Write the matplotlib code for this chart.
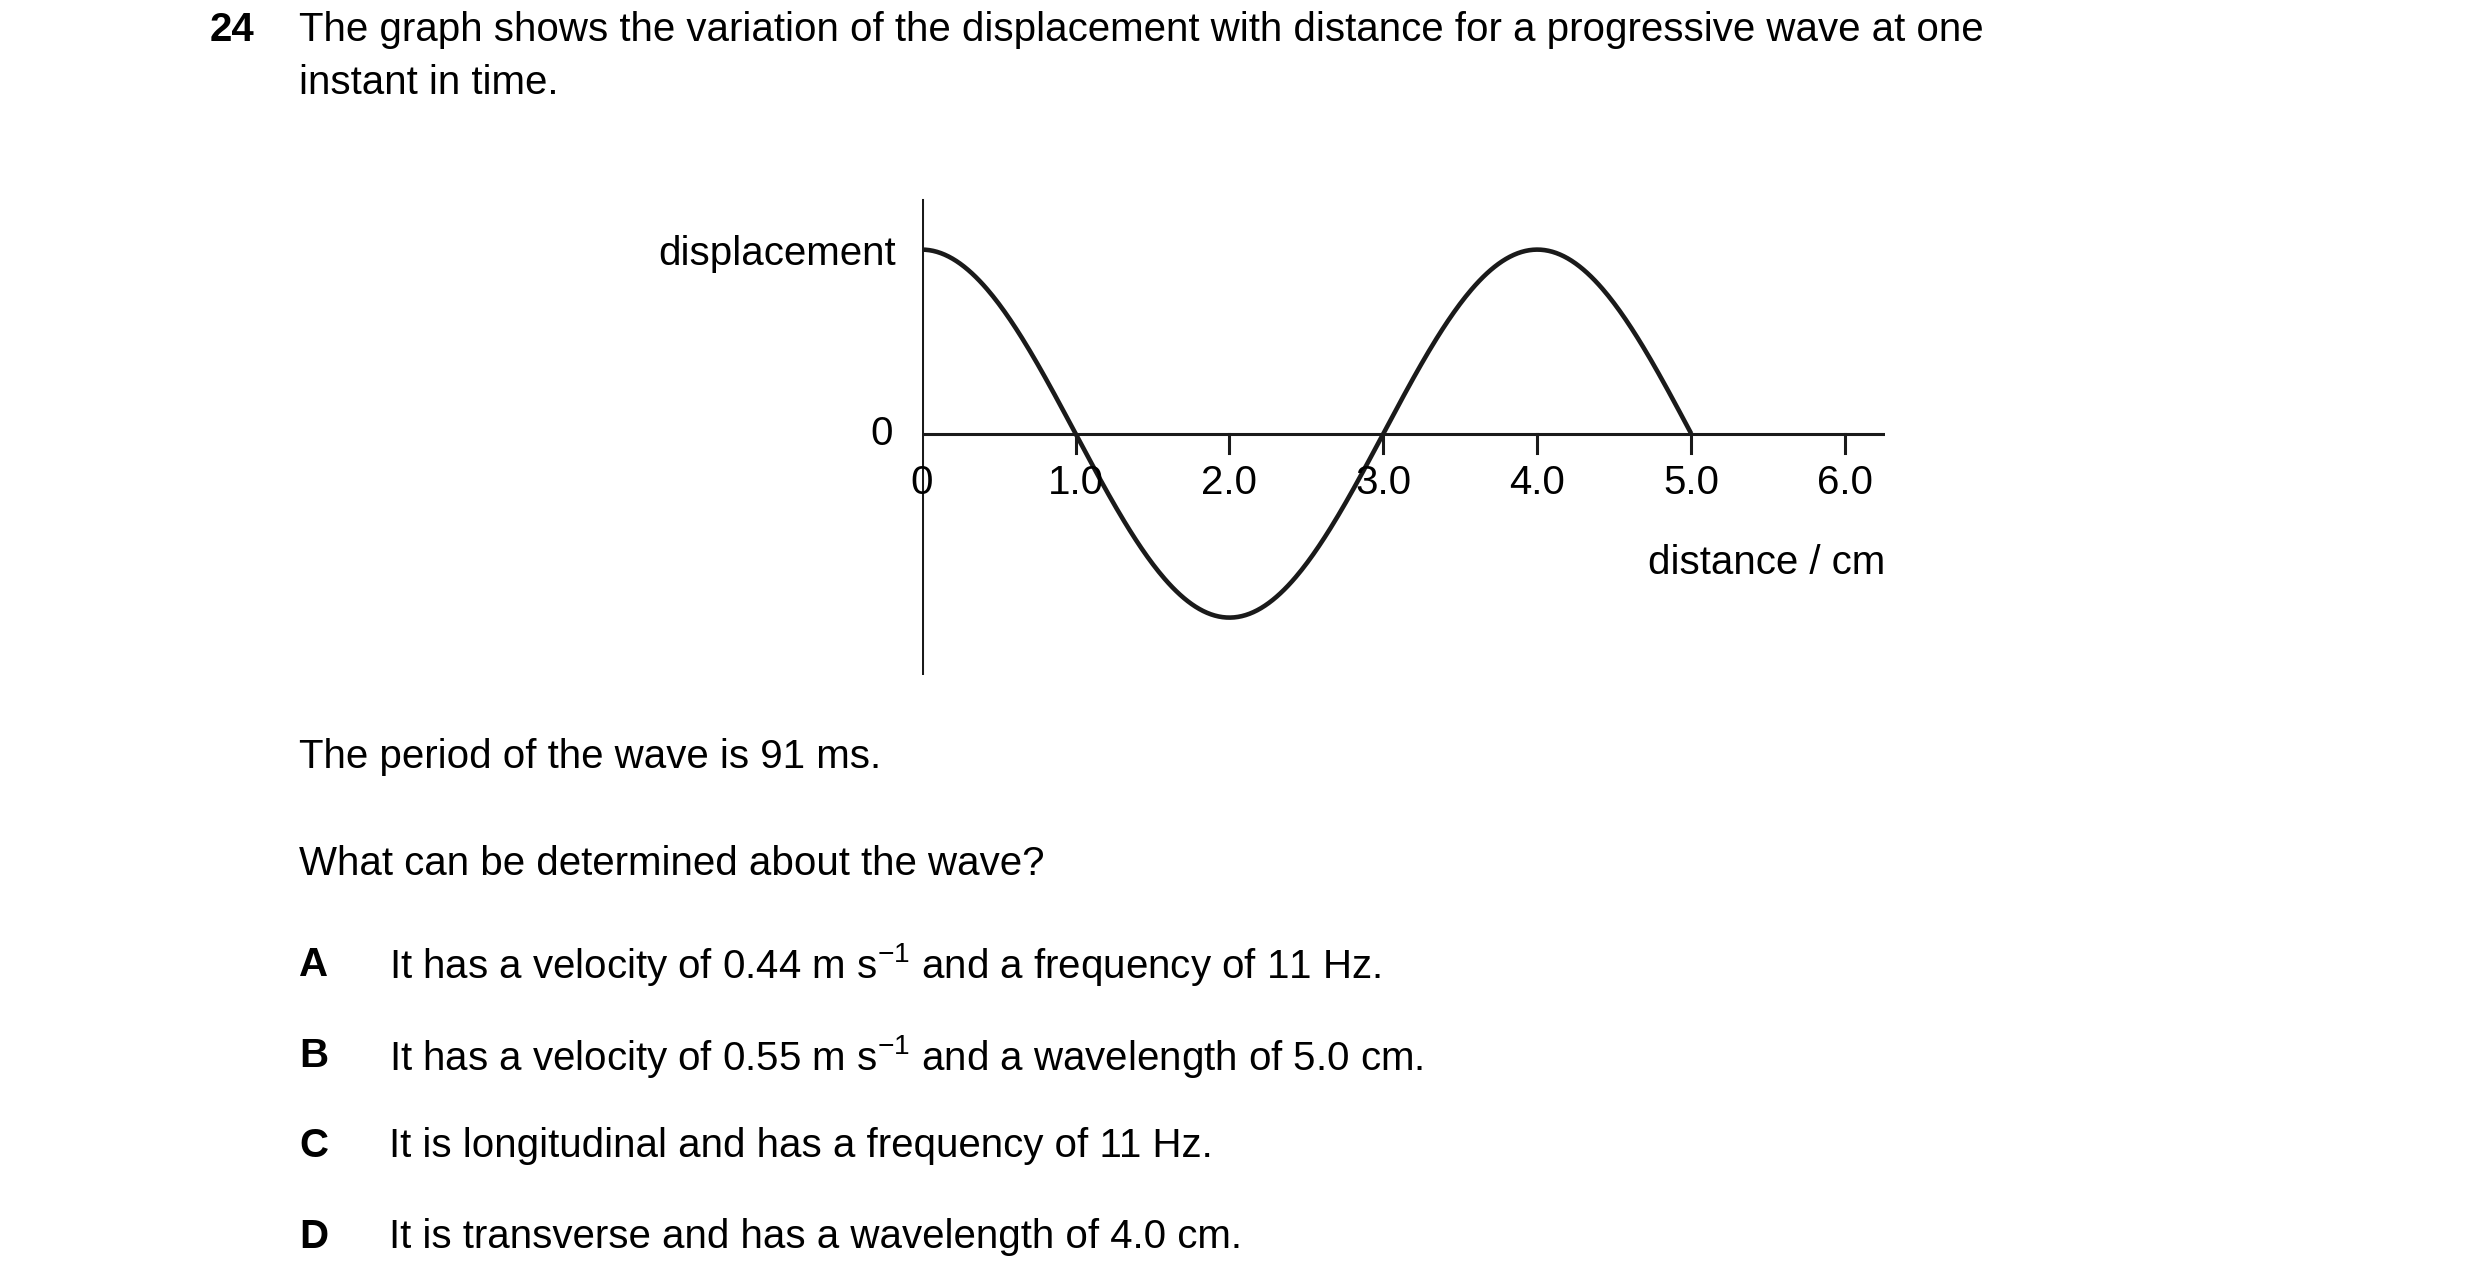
import numpy as np
import matplotlib
matplotlib.use("Agg")
import matplotlib.pyplot as plt

plt.rcParams['font.family'] = ['Liberation Sans', 'DejaVu Sans']
plt.rcParams['mathtext.fontset'] = 'custom'
plt.rcParams['mathtext.rm'] = 'Liberation Sans'
plt.rcParams['mathtext.it'] = 'Liberation Sans'

# Wave parameters
wavelength = 4.0
amplitude = 1.0
x_end = 5.0
xtick_vals = [1.0, 2.0, 3.0, 4.0, 5.0, 6.0]
xtick_labels = ["1.0", "2.0", "3.0", "4.0", "5.0", "6.0"]
options = ["A", "B", "C", "D"]
option_texts = [
    r"It has a velocity of 0.44 m s$^{-1}$ and a frequency of 11 Hz.",
    r"It has a velocity of 0.55 m s$^{-1}$ and a wavelength of 5.0 cm.",
    "It is longitudinal and has a frequency of 11 Hz.",
    "It is transverse and has a wavelength of 4.0 cm.",
]

W, H = 1550.0, 805.0
fig = plt.figure(figsize=(24.8, 12.88), dpi=100)
def fx(x): return x / W
def fy(y): return 1 - y / H

ppu = 96.2
ax = fig.add_axes([fx(576), fy(422), (1178 - 576) / W, (422 - 105) / H])
ax.set_xlim(0, (1178 - 576) / ppu)
ax.set_ylim(-(422 - 271) / 115, (271 - 105) / 115)
ax.axis('off')

lw = 3.3
xs = np.linspace(0, x_end, 400)
ax.plot(xs, amplitude * np.cos(2 * np.pi * xs / wavelength), color='#1a1a1a', lw=lw, solid_capstyle='butt')
ax.plot([0, (1178 - 576) / ppu], [0, 0], color='#1a1a1a', lw=2.2)
ax.plot([0, 0], [-(422 - 271) / 115, (271 - 125) / 115], color='#1a1a1a', lw=2.2)
ax.annotate('', xy=(0, (271 - 104) / 115), xytext=(0, (271 - 130) / 115),
            arrowprops=dict(arrowstyle='-|>', color='#1a1a1a', lw=1, mutation_scale=30))
tk = 12 / 115
for v in xtick_vals:
    ax.plot([v, v], [0, -tk], color='#1a1a1a', lw=2.2)
ax.plot([-14 / ppu, 0], [0, 0], color='#1a1a1a', lw=2.2)

fs = 29
for v, l in zip(xtick_vals, xtick_labels):
    fig.text(fx(576 + v * ppu), fy(302), l, ha='center', va='center', fontsize=fs)
fig.text(fx(576), fy(302), "0", ha='center', va='center', fontsize=fs)
fig.text(fx(558), fy(271), "0", ha='right', va='center', fontsize=fs)
fig.text(fx(560), fy(159), "displacement", ha='right', va='center', fontsize=fs)
fig.text(fx(1178), fy(352), "distance / cm", ha='right', va='center', fontsize=fs)

fig.text(fx(131), fy(19), "24", ha='left', va='center', fontsize=fs, fontweight='bold')
fig.text(fx(187), fy(19), "The graph shows the variation of the displacement with distance for a progressive wave at one",
         ha='left', va='center', fontsize=fs)
fig.text(fx(187), fy(52), "instant in time.", ha='left', va='center', fontsize=fs)
fig.text(fx(187), fy(473), "The period of the wave is 91 ms.", ha='left', va='center', fontsize=fs)
fig.text(fx(187), fy(540), "What can be determined about the wave?", ha='left', va='center', fontsize=fs)
for i, (o, t) in enumerate(zip(options, option_texts)):
    y = [603, 660, 716, 773][i]
    fig.text(fx(187), fy(y), o, ha='left', va='center', fontsize=fs, fontweight='bold')
    fig.text(fx(243), fy(y), t, ha='left', va='center', fontsize=fs)

fig.savefig("out.png", dpi=100, facecolor='white')
